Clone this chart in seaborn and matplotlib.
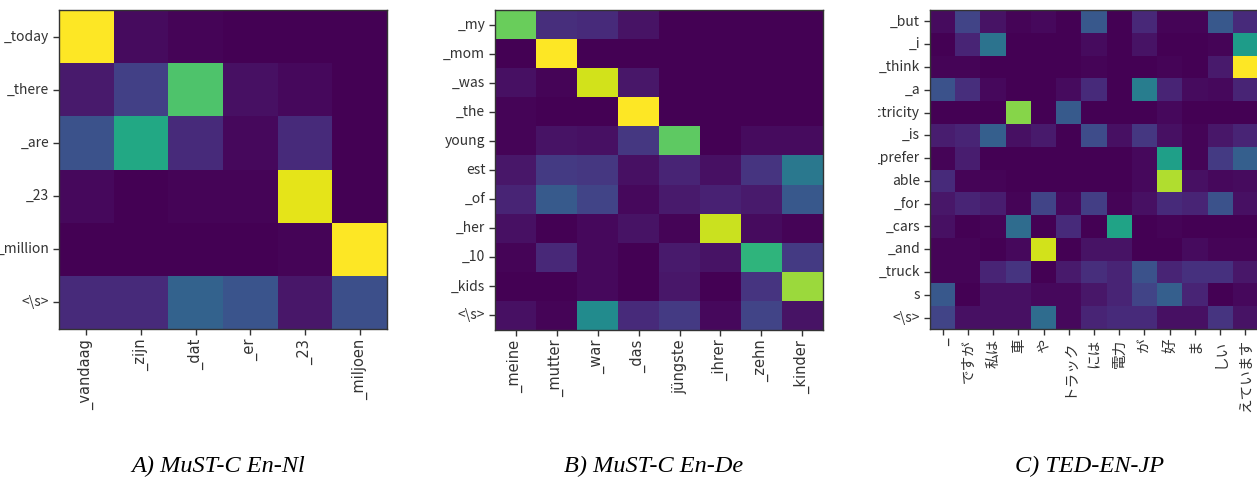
import matplotlib
matplotlib.use("Agg")
import matplotlib.pyplot as plt
from matplotlib.transforms import Bbox, TransformedBbox
import seaborn as sns

# panel A: MuST-C En-Nl
a_rows = ["_today", "_there", "_are", "_23", "_million", "<\\s>"]
a_cols = ["_vandaag", "_zijn", "_dat", "_er", "_23", "_miljoen"]
a_vals = [
    [1.00, 0.03, 0.01, 0.00, 0.00, 0.00],
    [0.07, 0.19, 0.72, 0.04, 0.02, 0.00],
    [0.25, 0.60, 0.12, 0.02, 0.12, 0.00],
    [0.02, 0.00, 0.01, 0.01, 0.96, 0.00],
    [0.00, 0.00, 0.00, 0.00, 0.01, 1.00],
    [0.12, 0.12, 0.31, 0.26, 0.06, 0.24],
]

# panel B: MuST-C En-De
b_rows = ["_my", "_mom", "_was", "_the", "young", "est", "_of", "_her", "_10", "_kids", "<\\s>"]
b_cols = ["_meine", "_mutter", "_war", "_das", "jüngste", "_ihrer", "_zehn", "_kinder"]
b_vals = [
    [0.77, 0.13, 0.12, 0.05, 0.00, 0.00, 0.00, 0.00],
    [0.00, 1.00, 0.00, 0.00, 0.00, 0.00, 0.00, 0.00],
    [0.04, 0.01, 0.93, 0.06, 0.00, 0.00, 0.00, 0.00],
    [0.01, 0.00, 0.00, 1.00, 0.00, 0.00, 0.00, 0.00],
    [0.01, 0.05, 0.04, 0.16, 0.75, 0.00, 0.03, 0.03],
    [0.06, 0.17, 0.16, 0.04, 0.10, 0.04, 0.15, 0.40],
    [0.10, 0.28, 0.20, 0.02, 0.07, 0.09, 0.07, 0.27],
    [0.04, 0.00, 0.02, 0.05, 0.01, 0.92, 0.03, 0.01],
    [0.01, 0.11, 0.02, 0.00, 0.07, 0.05, 0.65, 0.17],
    [0.00, 0.00, 0.02, 0.00, 0.06, 0.00, 0.15, 0.85],
    [0.04, 0.01, 0.48, 0.12, 0.17, 0.02, 0.20, 0.05],
]

# panel C: TED-EN-JP
c_rows = ["_but", "_i", "_think", "_a", "_electricity", "_is", "_prefer", "able",
          "_for", "_cars", "_and", "_truck", "s", "<\\s>"]
c_cols = ["_", "ですが", "私は", "車", "や", "トラック", "には", "電力", "が", "好", "ま", "しい", "えています"]
c_vals = [
    [0.03, 0.20, 0.05, 0.01, 0.02, 0.00, 0.27, 0.00, 0.11, 0.01, 0.01, 0.27, 0.12],
    [0.00, 0.10, 0.38, 0.00, 0.00, 0.00, 0.03, 0.00, 0.05, 0.00, 0.00, 0.01, 0.55],
    [0.01, 0.01, 0.00, 0.00, 0.00, 0.00, 0.01, 0.00, 0.00, 0.01, 0.00, 0.07, 1.00],
    [0.25, 0.13, 0.02, 0.00, 0.00, 0.03, 0.12, 0.00, 0.42, 0.10, 0.03, 0.02, 0.10],
    [0.00, 0.00, 0.00, 0.82, 0.00, 0.28, 0.00, 0.00, 0.00, 0.02, 0.00, 0.00, 0.00],
    [0.08, 0.10, 0.30, 0.04, 0.07, 0.00, 0.23, 0.04, 0.16, 0.04, 0.01, 0.06, 0.10],
    [0.01, 0.08, 0.00, 0.00, 0.00, 0.00, 0.00, 0.00, 0.02, 0.56, 0.01, 0.17, 0.30],
    [0.12, 0.01, 0.01, 0.00, 0.00, 0.00, 0.00, 0.00, 0.02, 0.88, 0.04, 0.02, 0.03],
    [0.06, 0.10, 0.08, 0.01, 0.20, 0.02, 0.18, 0.01, 0.04, 0.12, 0.10, 0.25, 0.04],
    [0.04, 0.00, 0.01, 0.35, 0.00, 0.12, 0.00, 0.58, 0.00, 0.01, 0.00, 0.00, 0.00],
    [0.01, 0.01, 0.00, 0.02, 0.93, 0.00, 0.05, 0.05, 0.00, 0.00, 0.03, 0.01, 0.01],
    [0.01, 0.01, 0.10, 0.15, 0.00, 0.07, 0.13, 0.10, 0.25, 0.10, 0.14, 0.14, 0.06],
    [0.27, 0.00, 0.04, 0.04, 0.02, 0.02, 0.06, 0.10, 0.20, 0.30, 0.10, 0.00, 0.02],
    [0.20, 0.04, 0.04, 0.04, 0.35, 0.02, 0.10, 0.12, 0.12, 0.04, 0.04, 0.15, 0.05],
]

W, H = 1257, 479
fig = plt.figure(figsize=(W / 100, H / 100), dpi=100)
ytick_font = ["Noto Sans CJK JP", "DejaVu Sans"]
xtick_font = ["DejaVu Sans", "Noto Sans CJK JP"]


def px_axes(x0, x1, y0, y1):
    return fig.add_axes([x0 / W, 1 - y1 / H, (x1 - x0) / W, (y1 - y0) / H])


def draw(ax, vals, rows, cols):
    sns.heatmap(vals, ax=ax, cmap="viridis", vmin=0, vmax=1, cbar=False,
                xticklabels=cols, yticklabels=rows, linewidths=0)
    for s in ax.spines.values():
        s.set_visible(True)
        s.set_color("#333333")
        s.set_linewidth(1.0)
    ax.tick_params(length=4, width=1, color="#333333", labelcolor="#333333", pad=3)
    ax.set_xticklabels(cols, rotation=90, family=xtick_font, fontsize=10.5, color="#333333")
    ax.set_yticklabels(rows, rotation=0, family=ytick_font, fontsize=10, color="#333333")


ax_a = px_axes(59, 387, 10, 329)
draw(ax_a, a_vals, a_rows, a_cols)
ax_b = px_axes(495, 823, 10, 330)
draw(ax_b, b_vals, b_rows, b_cols)
ax_c = px_axes(930, 1258, 10, 329)
draw(ax_c, c_vals, c_rows, c_cols)

# the source panel was cut on its left side
clip = TransformedBbox(Bbox([[878 / W, 0], [1, 1]]), fig.transFigure)
for lab in ax_c.get_yticklabels():
    lab.set_clip_on(True)
    lab.set_clip_box(clip)

title_kw = dict(ha="center", va="center", fontsize=17.5, style="italic",
                family="Liberation Serif", color="black")
fig.text(218 / W, 1 - 466 / H, "A) MuST-C En-Nl", **title_kw)
fig.text(654 / W, 1 - 466 / H, "B) MuST-C En-De", **title_kw)
fig.text(1090 / W, 1 - 466 / H, "C) TED-EN-JP", **title_kw)

fig.savefig("out.png", dpi=100)
